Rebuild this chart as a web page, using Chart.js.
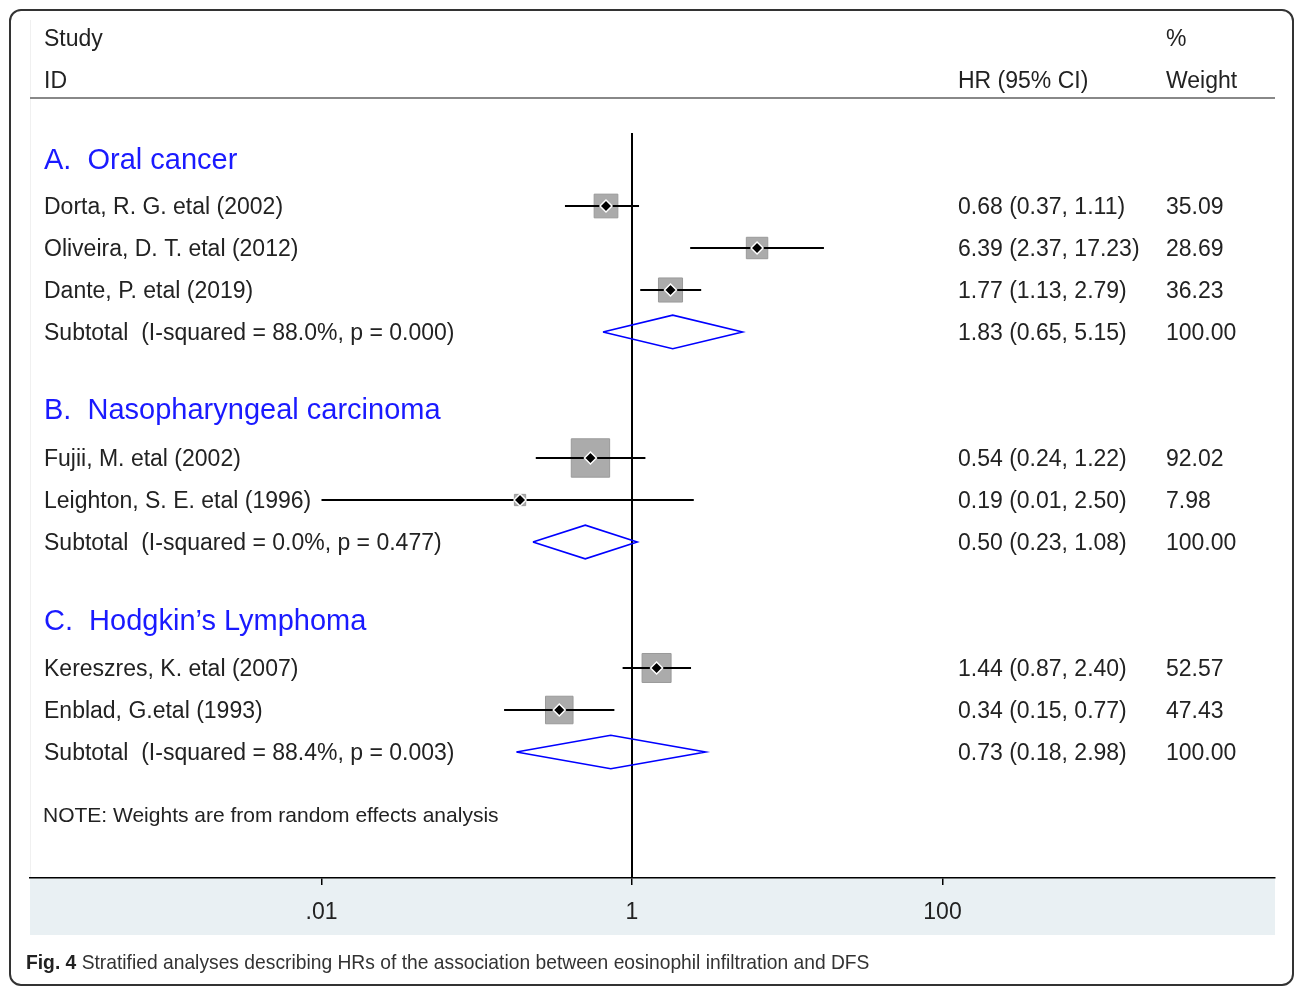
<!DOCTYPE html>
<html>
<head>
<meta charset="utf-8">
<script src="https://cdn.jsdelivr.net/npm/chart.js@4/dist/chart.umd.min.js"></script>
<style>
	body { margin: 0; background: #fff; overflow: hidden; }
	#wrap { position: absolute; left: 0; top: 0; width: 1295px; height: 940px; }
	#frame { position: absolute; left: 9px; top: 9px; width: 1285px; height: 977px; box-sizing: border-box;
		border: 2px solid #333; border-radius: 12px; pointer-events: none; }
	#caption { position: absolute; left: 26px; top: 950px; font: 21px "Liberation Sans", sans-serif; color: #333;
		white-space: nowrap; transform: scaleX(0.917); transform-origin: left top; }
	#caption b { color: #222; }
</style>
</head>
<body>
<div id="wrap"><canvas id="chart"></canvas></div>
<div id="frame"></div>
<div id="caption"><b>Fig. 4</b> Stratified analyses describing HRs of the association between eosinophil infiltration and DFS</div>
<script>
// studies, one row each
var studies = ['Dorta, R. G. etal (2002)', 'Oliveira, D. T. etal (2012)', 'Dante, P. etal (2019)',
	'Fujii, M. etal (2002)', 'Leighton, S. E. etal (1996)',
	'Kereszres, K. etal (2007)', 'Enblad, G.etal (1993)'];
var studyRows = [0, 1, 2, 6, 7, 11, 12];
var hr = [0.68, 6.39, 1.77, 0.54, 0.19, 1.44, 0.34];
var ciLow = [0.37, 2.37, 1.13, 0.24, 0.01, 0.87, 0.15];
var ciHigh = [1.11, 17.23, 2.79, 1.22, 2.50, 2.40, 0.77];
var weights = [35.09, 28.69, 36.23, 92.02, 7.98, 52.57, 47.43];

// subgroups
var groupTitles = ['A.  Oral cancer', 'B.  Nasopharyngeal carcinoma', 'C.  Hodgkin\u2019s Lymphoma'];
var groupTitleRows = [-1.12, 4.83, 9.86];
var subtotalLabels = ['Subtotal  (I-squared = 88.0%, p = 0.000)', 'Subtotal  (I-squared = 0.0%, p = 0.477)',
	'Subtotal  (I-squared = 88.4%, p = 0.003)'];
var subtotalRows = [3, 8, 13];
var subHr = [1.83, 0.50, 0.73];
var subLow = [0.65, 0.23, 0.18];
var subHigh = [5.15, 1.08, 2.98];

var xTicks = [0.01, 1, 100];
var xTickLabels = ['.01', '1', '100'];

var yTop = -1.738, yBottom = 16.0;
var textFont = '23px "Liberation Sans", Arial, sans-serif';

function fmt(v) { return v.toFixed(2); }

var datasets = [];

// point estimates (drawn on top)
datasets.push({
	order: 0,
	data: hr.map(function (v, i) { return {x: v, y: studyRows[i]}; }),
	pointStyle: 'rectRot',
	pointRadius: 6,
	backgroundColor: '#000',
	borderColor: '#fff',
	borderWidth: 1.5
});

// confidence intervals
hr.forEach(function (v, i) {
	datasets.push({
		order: 1,
		showLine: true,
		data: [{x: ciLow[i], y: studyRows[i]}, {x: ciHigh[i], y: studyRows[i]}],
		borderColor: '#000',
		borderWidth: 1.8,
		pointRadius: 0
	});
});

// weight boxes
datasets.push({
	order: 2,
	data: hr.map(function (v, i) { return {x: v, y: studyRows[i]}; }),
	pointStyle: 'rect',
	pointRadius: weights.map(function (w) { return 4 * Math.sqrt(w) / Math.SQRT2; }),
	backgroundColor: '#ababab',
	borderColor: '#9a9a9a',
	borderWidth: 1
});

// subtotal diamonds
subHr.forEach(function (v, i) {
	var r = subtotalRows[i];
	datasets.push({
		order: 1,
		showLine: true,
		data: [{x: subLow[i], y: r}, {x: v, y: r - 0.4}, {x: subHigh[i], y: r}, {x: v, y: r + 0.4}, {x: subLow[i], y: r}],
		borderColor: '#0000ff',
		borderWidth: 1.6,
		pointRadius: 0,
		tension: 0
	});
});

// null line at HR = 1
datasets.push({
	order: 3,
	showLine: true,
	data: [{x: 1, y: yTop}, {x: 1, y: yBottom}],
	borderColor: '#000',
	borderWidth: 2,
	pointRadius: 0
});

var forestText = {
	id: 'forestText',
	beforeDraw: function (chart) {
		var ctx = chart.ctx, area = chart.chartArea;
		ctx.save();
		ctx.fillStyle = '#e9f0f3';
		ctx.fillRect(area.left, area.bottom, area.right - area.left, 57);
		ctx.strokeStyle = '#f0f0f0';
		ctx.lineWidth = 1;
		ctx.beginPath();
		ctx.moveTo(area.left + 0.5, 20);
		ctx.lineTo(area.left + 0.5, area.bottom);
		ctx.stroke();
		ctx.restore();
	},
	afterDraw: function (chart) {
		var ctx = chart.ctx, area = chart.chartArea;
		var y = chart.scales.y;
		var colHr = 958, colW = 1166, colLab = 44;
		function py(row) { return y.getPixelForValue(row) + 2; }
		ctx.save();
		ctx.textBaseline = 'middle';
		ctx.fillStyle = '#222';
		ctx.font = textFont;

		// header
		ctx.fillText('Study', colLab, py(-4));
		ctx.fillText('ID', colLab, py(-3));
		ctx.fillText('HR (95% CI)', colHr, py(-3));
		ctx.fillText('%', colW, py(-4));
		ctx.fillText('Weight', colW, py(-3));
		ctx.strokeStyle = '#888';
		ctx.lineWidth = 2;
		ctx.beginPath();
		ctx.moveTo(area.left, y.getPixelForValue(-2.57));
		ctx.lineTo(area.right, y.getPixelForValue(-2.57));
		ctx.stroke();

		studies.forEach(function (s, i) {
			var p = py(studyRows[i]);
			ctx.fillText(s, colLab, p);
			ctx.fillText(fmt(hr[i]) + ' (' + fmt(ciLow[i]) + ', ' + fmt(ciHigh[i]) + ')', colHr, p);
			ctx.fillText(fmt(weights[i]), colW, p);
		});
		subtotalLabels.forEach(function (s, i) {
			var p = py(subtotalRows[i]);
			ctx.fillText(s, colLab, p);
			ctx.fillText(fmt(subHr[i]) + ' (' + fmt(subLow[i]) + ', ' + fmt(subHigh[i]) + ')', colHr, p);
			ctx.fillText('100.00', colW, p);
		});

		ctx.font = '21px "Liberation Sans", Arial, sans-serif';
		ctx.fillText('NOTE: Weights are from random effects analysis', colLab - 1, py(14.48));

		ctx.fillStyle = '#1a1aff';
		ctx.font = '29px "Liberation Sans", Arial, sans-serif';
		groupTitles.forEach(function (t, i) {
			ctx.fillText(t, colLab, py(groupTitleRows[i]));
		});
		ctx.restore();
	}
};

new Chart(document.getElementById('chart'), {
	type: 'scatter',
	data: { datasets: datasets },
	options: {
		responsive: true,
		maintainAspectRatio: false,
		animation: false,
		layout: { autoPadding: false, padding: { left: 30, right: 20, top: 133, bottom: 5 } },
		plugins: { legend: { display: false }, tooltip: { enabled: false } },
		scales: {
			x: {
				type: 'logarithmic',
				min: Math.pow(10, (30 - 632) / 155.25),
				max: Math.pow(10, (1275 - 632) / 155.25),
				afterBuildTicks: function (scale) {
					scale.ticks = xTicks.map(function (v) { return {value: v}; });
				},
				afterFit: function (scale) {
					scale.height = 57;
					scale.paddingLeft = 0;
					scale.paddingRight = 0;
				},
				grid: { drawOnChartArea: false, drawTicks: true, tickLength: 7, color: '#000', lineWidth: 1.5 },
				border: { display: true, color: '#000', width: 1.5 },
				ticks: {
					autoSkip: false,
					maxRotation: 0,
					padding: 14,
					color: '#222',
					font: { family: '"Liberation Sans", Arial, sans-serif', size: 23 },
					callback: function (v) { return xTickLabels[xTicks.indexOf(v)]; }
				}
			},
			y: { type: 'linear', display: false, reverse: true, min: yTop, max: yBottom }
		}
	},
	plugins: [forestText]
});
</script>
</body>
</html>
